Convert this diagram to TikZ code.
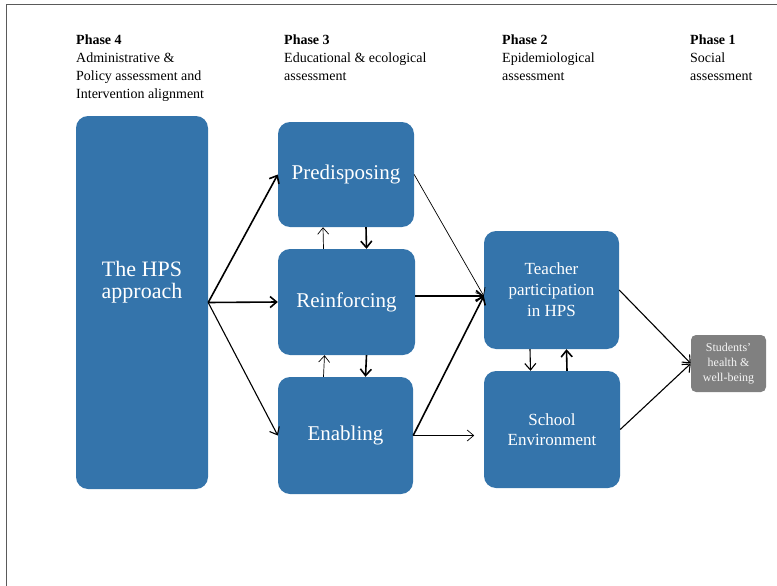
\documentclass[tikz,border=0pt]{standalone}
\usepackage{fontspec}
\setmainfont{Liberation Serif}
\usetikzlibrary{arrows.meta}

\definecolor{hpsblue}{RGB}{52,116,171}
\definecolor{outgray}{RGB}{128,128,128}
\definecolor{framegray}{RGB}{90,90,90}

\begin{document}
\begin{tikzpicture}[x=1pt,y=-1pt,
  >={Straight Barb[length=6.5pt,width=11pt]},
  box/.style={fill=hpsblue,rounded corners=12pt,inner sep=0pt,text=white,align=center},
  phase/.style={anchor=north west,inner sep=0pt,align=left,font=\fontsize{14}{18}\selectfont},
  heavy/.style={->,line width=1.6pt},
  medline/.style={->,line width=1.1pt},
  light/.style={->,line width=0.7pt}]

%SPACING
\useasboundingbox (0,0) rectangle (777,586);
\draw[line width=1.5pt,framegray] (777,4.5) -- (6.5,4.5) -- (6.5,586);
%SPACING

\node[phase](ph4) at (76,35) {\textbf{Phase 4}\\Administrative \&\\Policy assessment and\\Intervention alignment};
\node[phase](ph3) at (284,35) {\textbf{Phase 3}\\Educational \& ecological\\assessment};
\node[phase](ph2) at (502,35) {\textbf{Phase 2}\\Epidemiological\\assessment};
\node[phase](ph1) at (690,35) {\textbf{Phase 1}\\Social\\assessment};

\node[box,minimum width=132pt,minimum height=373pt](hps) at (142,302.5) {};
\node[text=white,align=center,font=\fontsize{22}{22}\selectfont](hpstext) at (142,282) {The HPS\\approach};

\node[box,minimum width=136pt,minimum height=105pt,font=\fontsize{21}{24}\selectfont](pred) at (346,174.5) {Predisposing};
\node[box,minimum width=137pt,minimum height=106pt,font=\fontsize{21}{24}\selectfont](reinf) at (346.5,302) {Reinforcing};
\node[box,minimum width=135pt,minimum height=117pt,font=\fontsize{21}{24}\selectfont](enab) at (345.5,435.5) {Enabling};

\node[box,minimum width=135pt,minimum height=118pt,font=\fontsize{17}{21}\selectfont](teacher) at (551.5,290) {Teacher\\participation\\in HPS};
\node[box,minimum width=136pt,minimum height=117pt,font=\fontsize{17}{20}\selectfont](school) at (552,429.5) {School\\Environment};

\node[box,fill=outgray,rounded corners=5pt,minimum width=75pt,minimum height=57pt,text=white!92!gray,font=\fontsize{12}{15}\selectfont](students) at (728.5,363.5) {Students'\\health \&\\well-being};

\draw[heavy] (hps.east) -- (pred.west);
\draw[heavy] (hps.east) -- (reinf.west);
\draw[medline] (hps.east) -- (enab.west);

\draw[light] ([xshift=-23pt]reinf.north) -- ([xshift=-23pt]pred.south);
\draw[heavy] ([xshift=20pt]pred.south) -- ([xshift=20pt]reinf.north);
\draw[light] ([xshift=-22pt]enab.north) -- ([xshift=-22pt]reinf.south);
\draw[heavy] ([xshift=20pt]reinf.south) -- ([xshift=20pt]enab.north);

\draw[light] (pred.east) -- ([yshift=-6pt]teacher.west);
\draw[heavy] ([yshift=6pt]reinf.east) -- ([yshift=-6pt]teacher.west);
\draw[heavy] (enab.east) -- ([yshift=-6pt]teacher.west);
\draw[light] (enab.east) -- ++(61,0);

\draw[medline] ([xshift=-21.5pt]teacher.south) -- ([xshift=-21.5pt]school.north);
\draw[heavy] ([xshift=15pt]school.north) -- ([xshift=15pt]teacher.south);

\draw[medline] (teacher.east) -- (students.west);
\draw[medline] (school.east) -- (students.west);

\end{tikzpicture}
\end{document}
